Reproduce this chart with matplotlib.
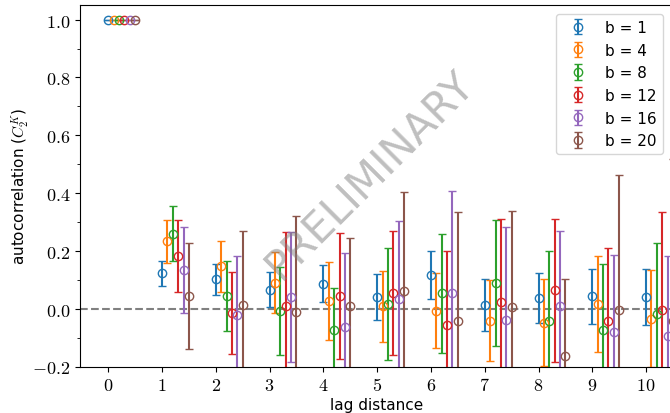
import numpy as np
import matplotlib
matplotlib.use("Agg")
import matplotlib.pyplot as plt
from matplotlib.ticker import FuncFormatter, MultipleLocator

plt.rcParams['mathtext.fontset'] = 'cm'

lags = np.arange(0, 11)
block_sizes = [1, 4, 8, 12, 16, 20]

# autocorrelation and its error for every block size b
ac_b1 = [1.0, 0.122, 0.102, 0.066, 0.087, 0.040, 0.117, 0.014, 0.036, 0.043, 0.040]
err_b1 = [0, 0.043, 0.053, 0.061, 0.065, 0.079, 0.083, 0.090, 0.087, 0.095, 0.096]
ac_b4 = [1.0, 0.233, 0.146, 0.090, 0.026, 0.008, -0.007, -0.041, -0.049, 0.017, -0.034]
err_b4 = [0, 0.075, 0.088, 0.105, 0.134, 0.124, 0.130, 0.139, 0.150, 0.167, 0.168]
ac_b8 = [1.0, 0.260, 0.044, -0.008, -0.075, 0.016, 0.053, 0.090, -0.043, -0.074, -0.017]
err_b8 = [0, 0.094, 0.120, 0.152, 0.146, 0.195, 0.205, 0.218, 0.241, 0.229, 0.244]
ac_b12 = [1.0, 0.183, -0.014, 0.009, 0.043, 0.054, -0.057, 0.022, 0.063, -0.042, -0.006]
err_b12 = [0, 0.125, 0.142, 0.255, 0.218, 0.214, 0.258, 0.288, 0.249, 0.251, 0.341]
ac_b16 = [1.0, 0.134, -0.023, 0.040, -0.062, 0.032, 0.054, -0.038, 0.009, -0.082, -0.096]
err_b16 = [0, 0.149, 0.206, 0.226, 0.253, 0.271, 0.353, 0.321, 0.261, 0.267, 0.280]
ac_b20 = [1.0, 0.044, 0.013, -0.013, 0.009, 0.061, -0.044, 0.006, -0.162, -0.006, -0.043]
err_b20 = [0, 0.185, 0.256, 0.333, 0.234, 0.344, 0.378, 0.332, 0.265, 0.468, 0.561]

acs = [ac_b1, ac_b4, ac_b8, ac_b12, ac_b16, ac_b20]
errs = [err_b1, err_b4, err_b8, err_b12, err_b16, err_b20]

fig = plt.figure(figsize=(6.7, 4.14), dpi=100)
ax = fig.add_axes([80 / 670, 46.5 / 414, 593 / 670, 361.3 / 414])

ax.axhline(0, ls='--', color='gray', lw=1.5, zorder=0)

for i, (b, ac, err) in enumerate(zip(block_sizes, acs, errs)):
    ax.errorbar(lags + 0.1 * i, ac, yerr=err, fmt='o', mfc='none', ms=6,
                mew=1.0, capsize=3, capthick=1.5, color='C%d' % i,
                label='b = %d' % b)

ax.set_xlim(-0.525, 10.5)
ax.set_ylim(-0.2, 1.05)
ax.set_xticks(lags)
ax.yaxis.set_major_locator(MultipleLocator(0.2))
ax.yaxis.set_minor_locator(MultipleLocator(0.1))
ax.xaxis.set_major_formatter(FuncFormatter(lambda v, p: r'$%d$' % v))
ax.yaxis.set_major_formatter(FuncFormatter(lambda v, p: r'$%.1f$' % v))
ax.tick_params(labelsize=13)

ax.set_xlabel('lag distance', fontsize=11, labelpad=2)
ax.set_ylabel(r'autocorrelation ($C_2^K$)', fontsize=11, labelpad=0)

ax.legend(loc='upper right', bbox_to_anchor=(663 / 670, 1 - 15 / 414),
          bbox_transform=fig.transFigure, borderaxespad=0, fontsize=11)

fig.text(370 / 670, 1 - 175 / 414, 'PRELIMINARY', rotation=45,
         ha='center', va='center', fontsize=30, color='gray', alpha=0.5)

fig.savefig('out.png', dpi=100)
